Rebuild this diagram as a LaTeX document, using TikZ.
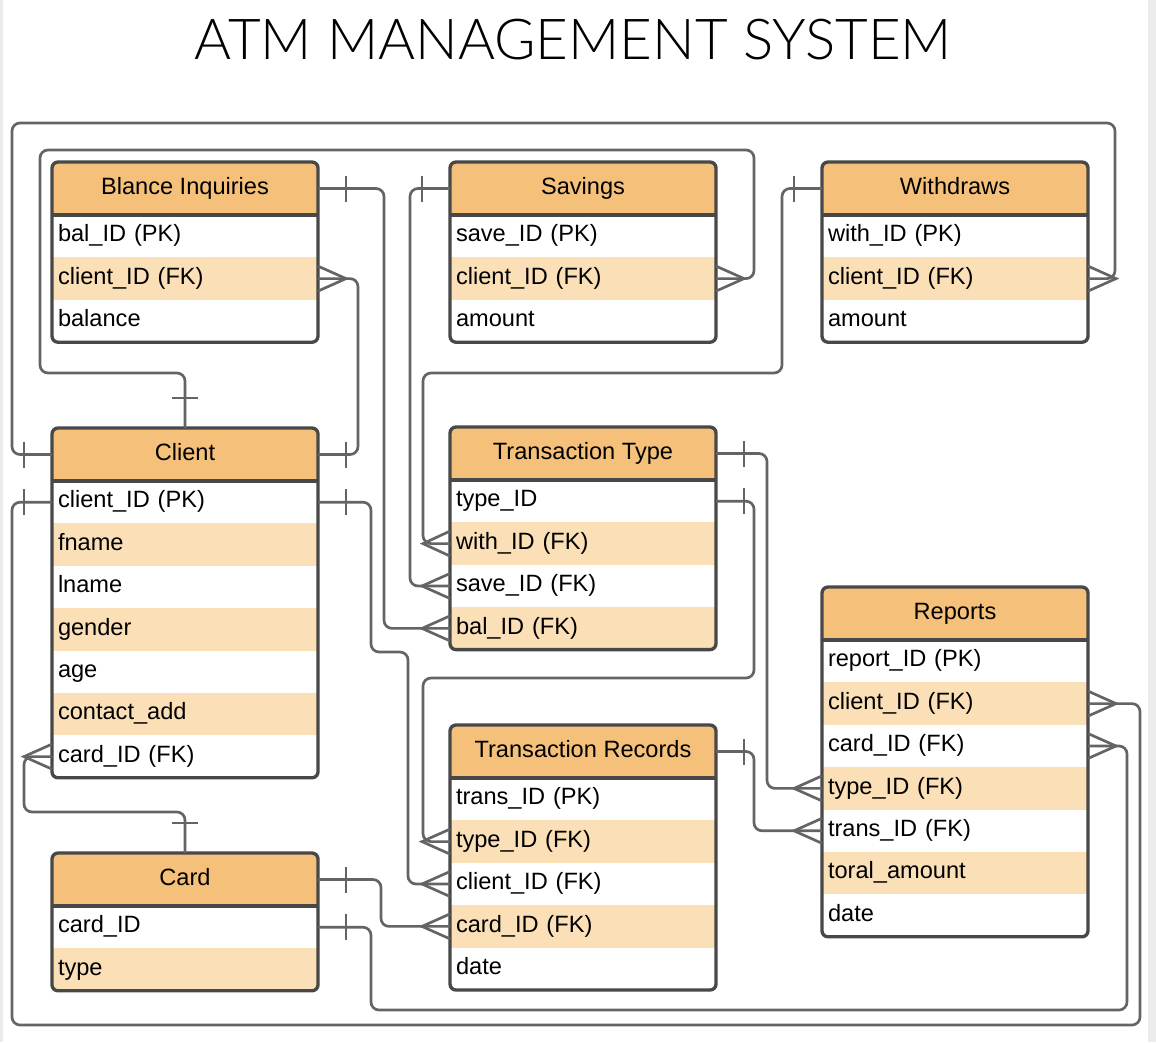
\documentclass[tikz,border=0pt]{standalone}
\usepackage{fontspec}
\usepackage{graphicx}
\setmainfont{Liberation Sans}
\newfontfamily\titlefont{Lato Light}
\usetikzlibrary{calc}
\definecolor{hdrcol}{RGB}{245,193,122}
\definecolor{hlcol}{RGB}{250,223,183}
\definecolor{linecol}{RGB}{100,100,100}
\definecolor{bordercol}{RGB}{72,72,72}
\newcommand\bodyfont{\fontsize{17.7}{21}\selectfont}
\tikzset{
  hdrnode/.style={minimum width=199.5pt, minimum height=39.75pt, fill=hdrcol, inner sep=0pt, outer sep=0pt, font=\bodyfont, align=center},
  rownode/.style={minimum width=199.5pt, minimum height=31.8pt, inner xsep=4.5pt, inner ysep=0pt, outer sep=0pt, text width=190.5pt, align=left, font=\bodyfont},
  boxline/.style={draw=bordercol, line width=2.5pt},
  conn/.style={draw=linecol, line width=2pt, rounded corners=6pt},
  tick/.style={draw=linecol, line width=2pt},
}
\newcommand\ertable[6]{%
  \begin{scope}
    \clip[rounded corners=4.5pt] (#2,#3) rectangle ++(266,{53+#4*42.4});
    \fill[white] (#2,#3) rectangle ++(266,{53+#4*42.4});
    \node[hdrnode, anchor=north west] (#1) at (#2,#3) {\strut #5};
    \foreach \txt/\hl [count=\i] in {#6} {
      \ifnum\hl=1 \def\rowfill{hlcol}\else\def\rowfill{white}\fi
      \node[rownode, fill=\rowfill, anchor=north west] (#1-\i) at (#2,{#3+53+(\i-1)*42.4}) {\strut\txt};
    }
  \end{scope}
  \draw[boxline] (#2,{#3+53}) -- ++(266,0);
  \draw[boxline, rounded corners=4.5pt] (#2,#3) rectangle ++(266,{53+#4*42.4});
}
\newcommand\barV[2]{\draw[tick] ($(#1)+(#2,-13)$) -- ($(#1)+(#2,13)$);}
\newcommand\barH[2]{\draw[tick] ($(#1)+(-13,#2)$) -- ($(#1)+(13,#2)$);}
\newcommand\crow[2]{\draw[tick] ($(#1)+(0,-12.5)$) -- ($(#1)+(#2,0)$) -- ($(#1)+(0,12.5)$);}
\begin{document}
\begin{tikzpicture}[x=0.75pt,y=-0.75pt]
\useasboundingbox (0,0) rectangle (1156,1042);
\fill[white] (0,0) rectangle (1156,1042);
\fill[black!8] (1148,0) rectangle (1156,1042);
\fill[black!8] (0,0) rectangle (3,1042);

\node (title) at (573.5,40) {\resizebox{567.75pt}{!}{\titlefont\fontsize{46}{50}\selectfont ATM MANAGEMENT SYSTEM}};

\ertable{bi}{52}{162}{3}{Blance Inquiries}{bal\_ID (PK)/0, client\_ID (FK)/1, balance/0}
\ertable{sav}{450}{162}{3}{Savings}{save\_ID (PK)/0, client\_ID (FK)/1, amount/0}
\ertable{wd}{822}{162}{3}{Withdraws}{with\_ID (PK)/0, client\_ID (FK)/1, amount/0}
\ertable{cl}{52}{428}{7}{Client}{client\_ID (PK)/0, fname/1, lname/0, gender/1, age/0, contact\_add/1, card\_ID (FK)/0}
\ertable{tt}{450}{427}{4}{Transaction Type}{type\_ID/0, with\_ID (FK)/1, save\_ID (FK)/0, bal\_ID (FK)/1}
\ertable{tr}{450}{725}{5}{Transaction Records}{trans\_ID (PK)/0, type\_ID (FK)/1, client\_ID (FK)/0, card\_ID (FK)/1, date/0}
\ertable{rp}{822}{587}{7}{Reports}{report\_ID (PK)/0, client\_ID (FK)/1, card\_ID (FK)/0, type\_ID (FK)/1, trans\_ID (FK)/0, toral\_amount/1, date/0}
\ertable{cd}{52}{853}{2}{Card}{card\_ID/0, type/1}

% Blance Inquiries -> Transaction Type bal_ID
\draw[conn] (bi.east) -- ++(66,0) |- (tt-4.west);
\barV{bi.east}{28} \crow{tt-4.west}{-28}
% Savings -> Transaction Type save_ID
\draw[conn] (sav.west) -- ++(-40,0) |- (tt-3.west);
\barV{sav.west}{-28} \crow{tt-3.west}{-28}
% Withdraws -> Transaction Type with_ID
\draw[conn] (wd.west) -- ++(-40,0) |- (423,373) |- (tt-2.west);
\barV{wd.west}{-28} \crow{tt-2.west}{-27}
% Client -> Blance Inquiries client_ID
\draw[conn] (bi-2.east) -- ++(40,0) |- (cl.east);
\crow{bi-2.east}{28} \barV{cl.east}{28}
% Client -> Savings client_ID
\draw[conn] (sav-2.east) -- ++(38,0) |- (40,150) |- (185,373) -- (cl.north);
\crow{sav-2.east}{28} \barH{cl.north}{-30}
% Client -> Withdraws client_ID
\draw[conn] (wd-2.east) -- ++(27,0) |- (12,123) |- (cl.west);
\crow{wd-2.east}{28} \barV{cl.west}{-28}
% Client -> Transaction Records client_ID
\draw[conn] (cl-1.east) -- ++(53,0) |- (408,652) |- (tr-3.west);
\barV{cl-1.east}{28} \crow{tr-3.west}{-28}
% Client -> Reports client_ID
\draw[conn] (cl-1.west) -- ++(-40,0) |- (1140,1025) |- (rp-2.east);
\barV{cl-1.west}{-28} \crow{rp-2.east}{28}
% Card -> Reports card_ID
\draw[conn] (cd-1.east) -- ++(53,0) |- (1127,1010) |- (rp-3.east);
\barV{cd-1.east}{28} \crow{rp-3.east}{28}
% Card -> Transaction Records card_ID
\draw[conn] (cd.east) -- ++(63,0) |- (tr-4.west);
\barV{cd.east}{28} \crow{tr-4.west}{-28}
% Card -> Client card_ID
\draw[conn] (cl-7.west) -- ++(-28,0) |- (185,812) -- (cd.north);
\crow{cl-7.west}{-28} \barH{cd.north}{-30}
% Transaction Type -> Reports type_ID
\draw[conn] (tt.east) -- ++(51,0) |- (rp-4.west);
\barV{tt.east}{28} \crow{rp-4.west}{-28}
% Transaction Type -> Transaction Records type_ID
\draw[conn] (tt-1.east) -- ++(38,0) |- (423,678) |- (tr-2.west);
\barV{tt-1.east}{28} \crow{tr-2.west}{-28}
% Transaction Records -> Reports trans_ID
\draw[conn] (tr.east) -- ++(38,0) |- (rp-5.west);
\barV{tr.east}{28} \crow{rp-5.west}{-28}
\end{tikzpicture}
\end{document}
